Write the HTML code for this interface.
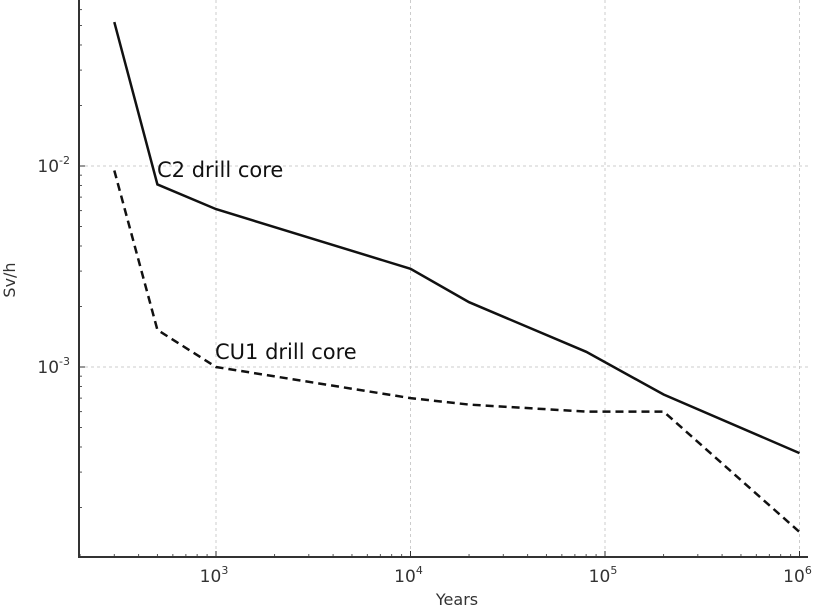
<!DOCTYPE html>
<html><head><meta charset="utf-8"><style>
body{margin:0;background:#fff;width:836px;height:610px;overflow:hidden}
svg{font-family:"DejaVu Sans","Liberation Sans",sans-serif}
</style></head><body>
<svg id="chart" width="836" height="610"></svg>
<script>
const xTicks=[3,4,5,6];
const yTicks=[-3,-2];
const years=[300,500,1000,10000,20000,80000,200000,1000000];
const c2Values=[0.052,0.0081,0.0061,0.00308,0.0021,0.00119,0.00073,0.000373];
const cu1Values=[0.0095,0.00153,0.001,0.0007,0.00065,0.0006,0.0006,0.000151];
const NS="http://www.w3.org/2000/svg";
const svg=document.getElementById('chart');
const L=79,R=808,T=0,B=557;
function xs(v){return 216+(Math.log10(v)-3)*194.5;}
function ys(v){return 367-(Math.log10(v)+3)*201;}
function mk(t,a,p){const e=document.createElementNS(NS,t);for(const k in a)e.setAttribute(k,a[k]);(p||svg).appendChild(e);return e;}
// grid
xTicks.forEach(t=>{const x=xs(Math.pow(10,t));
const g=mk('line',{x1:x,x2:x,y1:T,y2:B,stroke:'#ccc','stroke-dasharray':'3,3','stroke-width':1});


mk('line',{x1:x,x2:x,y1:B,y2:B-6,stroke:'#333'});
const lab=mk('text',{x:x-2,y:582,'font-size':17,'text-anchor':'middle',fill:'#333'});


lab.innerHTML='10<tspan dy="-8" font-size="11">'+t+'</tspan>';
});
// minor x ticks
for(let d=2;d<=6;d++){for(let m=2;m<=9;m++){const v=m*Math.pow(10,d);const x=xs(v);if(x>L&&x<R)mk('line',{x1:x,x2:x,y1:B,y2:B-3,stroke:'#555'});}}
yTicks.forEach(t=>{const y=ys(Math.pow(10,t));
const g=mk('line',{x1:L,x2:R,y1:y,y2:y,stroke:'#ccc','stroke-dasharray':'3,3'});


mk('line',{x1:L,x2:L+6,y1:y,y2:y,stroke:'#333'});
const lab=mk('text',{x:70,y:y+6,'font-size':17,'text-anchor':'end',fill:'#333'});


lab.innerHTML='10<tspan dy="-8" font-size="11">'+t+'</tspan>';
});
for(let d=-4;d<=-1;d++){for(let m=2;m<=9;m++){const y=ys(m*Math.pow(10,d));if(y>T&&y<B)mk('line',{x1:L,x2:L+3,y1:y,y2:y,stroke:'#555'});}}
// axes
const ax=mk('path',{d:`M${L},${T}V${B}H${R}`,fill:'none',stroke:'#333','stroke-width':2});


function series(vals,dash,name){
 const d=years.map((v,i)=>(i?'L':'M')+xs(v).toFixed(1)+','+ys(vals[i]).toFixed(1)).join('');
 const p=mk('path',{d:d,fill:'none',stroke:'#111','stroke-width':2.5,'stroke-dasharray':dash});
 
 
}
series(c2Values,'none','c2-line');
series(cu1Values,'8,5','cu1-line');
const t1=mk('text',{x:157,y:177,'font-size':21,fill:'#111'});t1.textContent='C2 drill core';


const t2=mk('text',{x:215,y:359,'font-size':21,fill:'#111'});t2.textContent='CU1 drill core';


const xt=mk('text',{x:457,y:605,'font-size':16,'text-anchor':'middle',fill:'#333'});xt.textContent='Years';


const yt=mk('text',{x:15,y:280,'font-size':16,'text-anchor':'middle',fill:'#333',transform:'rotate(-90 15 280)'});yt.textContent='Sv/h';


</script>
</body></html>
